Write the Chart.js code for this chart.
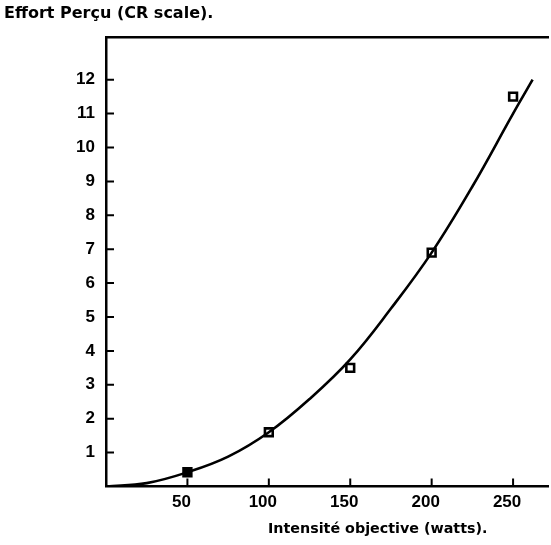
<!DOCTYPE html>
<html>
<head>
<meta charset="utf-8">
<script src="https://cdn.jsdelivr.net/npm/chart.js@4"></script>
<style>
    html, body { margin: 0; padding: 0; background: #fff; overflow: hidden; }
    #wrap { position: relative; width: 551px; height: 545px; overflow: hidden; }
    .lbl { position: absolute; white-space: nowrap; font-family: 'DejaVu Sans', sans-serif; font-weight: bold; color: #000; }
    #title { left: 4px; top: 5px; font-size: 16px; line-height: 16px; }
    #xlabel { left: 268px; top: 521px; font-size: 14.3px; line-height: 15px; }
</style>
</head>
<body>
<div id="wrap">
    <canvas id="chart" width="557" height="545"></canvas>
    <div class="lbl" id="title">Effort Perçu (CR scale).</div>
    <div class="lbl" id="xlabel">Intensité objective (watts).</div>
</div>
<script>
// measured points (squares)
const watts = [50, 100, 150, 200, 250];
const effort = [0.42, 1.6, 3.5, 6.9, 11.5];

// fitted curve
const curveWatts = [0, 25, 50, 75, 100, 125, 150, 175, 200, 225, 250, 262];
const curveEffort = [0, 0.1, 0.42, 0.88, 1.6, 2.58, 3.75, 5.25, 6.9, 8.85, 11.0, 12.0];

const xTicks = [50, 100, 150, 200, 250];
const yTicks = [1, 2, 3, 4, 5, 6, 7, 8, 9, 10, 11, 12];

const tickFont = { family: "'Liberation Sans', sans-serif", size: 17, weight: 'bold' };

// small tick marks drawn inside the plot area
const innerTicks = {
    id: 'innerTicks',
    afterDraw(chart) {
        const ctx = chart.ctx;
        const x = chart.scales.x, y = chart.scales.y;
        const area = chart.chartArea;
        ctx.save();
        ctx.strokeStyle = '#000';
        ctx.lineWidth = 2;
        ctx.beginPath();
        xTicks.forEach(v => {
            const px = x.getPixelForValue(v);
            ctx.moveTo(px, area.bottom);
            ctx.lineTo(px, area.bottom - 8);
        });
        yTicks.forEach(v => {
            const py = y.getPixelForValue(v);
            ctx.moveTo(area.left, py);
            ctx.lineTo(area.left + 8, py);
        });
        ctx.stroke();
        ctx.restore();
    }
};

new Chart(document.getElementById('chart').getContext('2d'), {
    type: 'scatter',
    data: {
        datasets: [
            {
                type: 'line',
                data: curveWatts.map((w, i) => ({ x: w, y: curveEffort[i] })),
                borderColor: '#000',
                borderWidth: 2.6,
                pointRadius: 0,
                tension: 0.4,
                fill: false
            },
            {
                data: watts.map((w, i) => ({ x: w, y: effort[i] })),
                pointStyle: 'rect',
                pointRadius: 5.5,
                pointBorderWidth: 2.6,
                pointBorderColor: '#000',
                pointBackgroundColor: ['#000', '#fff', '#fff', '#fff', '#fff']
            }
        ]
    },
    options: {
        responsive: false,
        animation: false,
        layout: { padding: { left: 0, right: 2, top: 0, bottom: 0 } },
        plugins: {
            legend: { display: false },
            tooltip: { enabled: false }
        },
        scales: {
            x: {
                type: 'linear',
                min: 0,
                max: 272,
                afterBuildTicks: s => { s.ticks = xTicks.map(v => ({ value: v })); },
                afterFit: s => { s.height = 58.5; },
                grid: { display: false, drawTicks: false },
                border: { display: true, color: '#000', width: 2.5 },
                ticks: { font: tickFont, color: '#000', padding: 6, labelOffset: -6, maxRotation: 0 }
            },
            x2: {
                type: 'linear',
                position: 'top',
                min: 0,
                max: 272,
                afterFit: s => { s.height = 37; },
                grid: { display: false, drawTicks: false },
                border: { display: true, color: '#000', width: 2.5 },
                ticks: { display: false }
            },
            y: {
                min: 0,
                max: 13.26,
                afterBuildTicks: s => { s.ticks = yTicks.map(v => ({ value: v })); },
                afterFit: s => { s.width = 106; },
                grid: { display: false, drawTicks: false },
                border: { display: true, color: '#000', width: 2.5 },
                ticks: { font: tickFont, color: '#000', padding: 11 }
            }
        }
    },
    plugins: [innerTicks]
});
</script>
</body>
</html>
